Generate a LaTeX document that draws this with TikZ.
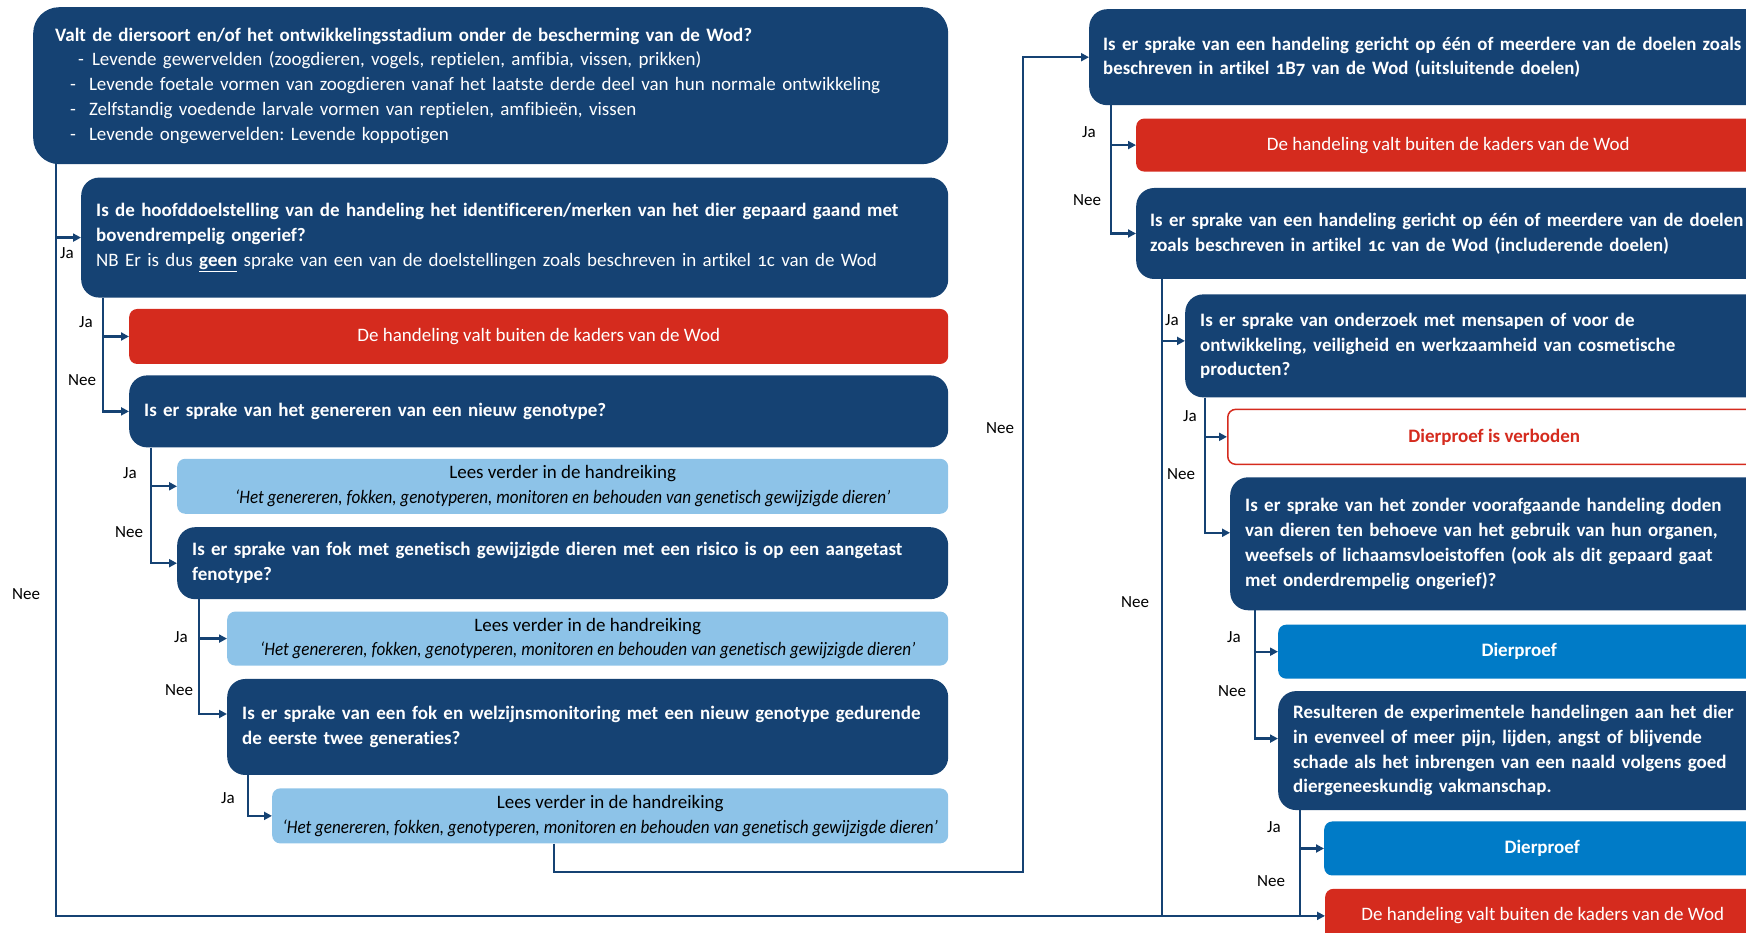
\documentclass[tikz,border=0pt]{standalone}
\usepackage{fontspec}
\setmainfont{Carlito}[Numbers=OldStyle, Ligatures={CommonOff,ContextualOff}]
\usetikzlibrary{positioning,arrows.meta}
\frenchspacing

\definecolor{wodblauw}{HTML}{154273}
\definecolor{wodrood}{HTML}{D52B1E}
\definecolor{hemelblauw}{HTML}{007BC7}
\definecolor{lichtblauw}{HTML}{8DC3E8}

\tikzset{
  vraag/.style={fill=wodblauw, text=white, rounded corners=18pt, align=left,
    inner xsep=15pt, inner ysep=0pt,
    font=\fontsize{19pt}{24.8pt}\selectfont\bfseries},
  uitkomst/.style={rounded corners=8pt, align=center, inner sep=0pt,
    font=\fontsize{19pt}{24.8pt}\selectfont},
  buiten/.style={uitkomst, fill=wodrood, text=white},
  lees/.style={uitkomst, fill=lichtblauw, text=black},
  proef/.style={uitkomst, fill=hemelblauw, text=white,
    font=\fontsize{19pt}{24.8pt}\selectfont\bfseries},
  verbod/.style={uitkomst, draw=wodrood, line width=1.5pt, fill=white, text=wodrood,
    font=\fontsize{19pt}{24.8pt}\selectfont\bfseries},
  keuze/.style={inner sep=0pt, text=black, font=\fontsize{17pt}{20pt}\selectfont},
  pijl/.style={draw=wodblauw, line width=2.3pt, -{Triangle[length=8pt,width=8pt]}},
  lijn/.style={draw=wodblauw, line width=2.3pt},
}

\begin{document}
\begin{tikzpicture}[x=1pt,y=1pt]
  \useasboundingbox (0,0) rectangle (1746,933);
  \clip (0,0) rectangle (1746,933);

  % linker kolom
  \node (qA) [vraag, anchor=north west, rounded corners=26pt, inner xsep=22pt,
    text width=871pt, minimum width=915pt, minimum height=157pt] at (33,926)
    {Valt de diersoort en/of het ontwikkelingsstadium onder de bescherming van de Wod?\\
     {\mdseries\hspace*{23pt}-\hspace*{8pt}Levende gewervelden (zoogdieren, vogels, reptielen, amfibia, vissen, prikken)}\\
     {\mdseries\hspace*{15pt}-\hspace*{13pt}Levende foetale vormen van zoogdieren vanaf het laatste derde deel van hun normale ontwikkeling}\\
     {\mdseries\hspace*{15pt}-\hspace*{13pt}Zelfstandig voedende larvale vormen van reptielen, amfibieën, vissen}\\
     {\mdseries\hspace*{15pt}-\hspace*{13pt}Levende ongewervelden: Levende koppotigen}};
  \node (qB) [vraag, below right=13pt and 48pt of qA.south west,
    text width=837pt, minimum width=867pt, minimum height=120pt]
    {\mbox{Is de hoofddoelstelling van de handeling het identificeren/merken van het dier gepaard gaand met}\\
     bovendrempelig ongerief?\\
     {\mdseries NB Er is dus \underline{\textbf{geen}} sprake van een van de doelstellingen zoals beschreven in artikel 1c van de Wod}};
  \node (rC) [buiten, below right=11pt and 48pt of qB.south west,
    minimum width=819pt, minimum height=55pt]
    {De handeling valt buiten de kaders van de Wod};
  \node (qD) [vraag, below right=11pt and 0pt of rC.south west,
    text width=789pt, minimum width=819pt, minimum height=72pt]
    {Is er sprake van het genereren van een nieuw genotype?};
  \node (lE) [lees, below right=11pt and 48pt of qD.south west,
    minimum width=771pt, minimum height=55pt]
    {Lees verder in de handreiking\\
     {\itshape\addfontfeature{FakeStretch=0.9}‘Het genereren, fokken, genotyperen, monitoren en behouden van genetisch gewijzigde dieren’}};
  \node (qF) [vraag, below right=13pt and 0pt of lE.south west,
    text width=741pt, minimum width=771pt, minimum height=72pt]
    {\mbox{Is er sprake van fok met genetisch gewijzigde dieren met een risico is op een aangetast}\\
     fenotype?};
  \node (lG) [lees, below right=12pt and 50pt of qF.south west,
    minimum width=721pt, minimum height=54pt]
    {Lees verder in de handreiking\\
     {\itshape\addfontfeature{FakeStretch=0.9}‘Het genereren, fokken, genotyperen, monitoren en behouden van genetisch gewijzigde dieren’}};
  \node (qH) [vraag, below right=13pt and 0pt of lG.south west,
    text width=691pt, minimum width=721pt, minimum height=96pt]
    {\mbox{Is er sprake van een fok en welzijnsmonitoring met een nieuw genotype gedurende}\\
     de eerste twee generaties?};
  \node (lI) [lees, below right=13pt and 45pt of qH.south west,
    minimum width=676pt, minimum height=55pt]
    {Lees verder in de handreiking\\
     {\itshape\addfontfeature{FakeStretch=0.9}‘Het genereren, fokken, genotyperen, monitoren en behouden van genetisch gewijzigde dieren’}};

  % rechter kolom
  \node (qJ) [vraag, anchor=north west, inner xsep=14pt,
    text width=713pt, minimum width=741pt, minimum height=96pt] at (1089,924)
    {\addfontfeature{FakeStretch=0.99}Is er sprake van een handeling gericht op één of meerdere van de doelen zoals\\
     beschreven in artikel 1B7 van de Wod (uitsluitende doelen)};
  \node (rK) [buiten, below right=13pt and 47pt of qJ.south west,
    minimum width=624pt, minimum height=53pt]
    {De handeling valt buiten de kaders van de Wod};
  \node (qL) [vraag, below right=16pt and 0pt of rK.south west, inner xsep=14pt,
    text width=666pt, minimum width=694pt, minimum height=91pt]
    {\addfontfeature{FakeStretch=0.99}Is er sprake van een handeling gericht op één of meerdere van de doelen\\
     zoals beschreven in artikel 1c van de Wod (includerende doelen)};
  \node (qM) [vraag, below right=15pt and 49pt of qL.south west,
    text width=615pt, minimum width=645pt, minimum height=103pt]
    {Is er sprake van onderzoek met mensapen of voor de\\
     ontwikkeling, veiligheid en werkzaamheid van cosmetische\\
     producten?};
  \node (vN) [verbod, below right=11pt and 42pt of qM.south west,
    minimum width=533pt, minimum height=55pt]
    {Dierproef is verboden};
  \node (qO) [vraag, below right=12pt and 3pt of vN.south west,
    text width=570pt, minimum width=600pt, minimum height=133pt]
    {Is er sprake van het zonder voorafgaande handeling doden\\
     van dieren ten behoeve van het gebruik van hun organen,\\
     weefsels of lichaamsvloeistoffen (ook als dit gepaard gaat\\
     met onderdrempelig ongerief)?};
  \node (pP) [proef, below right=14pt and 48pt of qO.south west,
    minimum width=482pt, minimum height=54pt]
    {Dierproef};
  \node (qQ) [vraag, below right=12pt and 0pt of pP.south west,
    text width=522pt, minimum width=552pt, minimum height=119pt]
    {Resulteren de experimentele handelingen aan het dier\\
     in evenveel of meer pijn, lijden, angst of blijvende\\
     schade als het inbrengen van een naald volgens goed\\
     diergeneeskundig vakmanschap.};
  \node (pR) [proef, below right=11pt and 46pt of qQ.south west,
    minimum width=436pt, minimum height=54pt]
    {Dierproef};
  \node (rS) [buiten, below right=13pt and 1pt of pR.south west,
    minimum width=435pt, minimum height=54pt]
    {De handeling valt buiten de kaders van de Wod};

  % takken links
  \draw[pijl] ([xshift=23pt]qA.south west) |- (qB.west);
  \draw[pijl] ([xshift=23pt]qA.south west) |- (rS.west);
  \draw[pijl] ([xshift=22pt]qB.south west) |- (rC.west);
  \draw[pijl] ([xshift=22pt]qB.south west) |- (qD.west);
  \draw[pijl] ([xshift=22pt]qD.south west) |- (lE.west);
  \draw[pijl] ([xshift=22pt]qD.south west) |- (qF.west);
  \draw[pijl] ([xshift=22pt]qF.south west) |- (lG.west);
  \draw[pijl] ([xshift=22pt]qF.south west) |- ([yshift=13pt]qH.west);
  \draw[pijl] ([xshift=21pt]qH.south west) |- (lI.west);

  % lus naar de rechter kolom
  \coordinate (lus) at (1023,61);
  \draw[pijl] ([xshift=282pt]lI.south west) |- (lus) |- (qJ.west);

  % takken rechts
  \draw[pijl] ([xshift=22pt]qJ.south west) |- (rK.west);
  \draw[pijl] ([xshift=22pt]qJ.south west) |- (qL.west);
  \draw[pijl] ([xshift=26pt]qL.south west) |- ([yshift=5pt]qM.west);
  \draw[lijn] ([xshift=26pt]qL.south west) -- ([xshift=26pt]qL.south west |- rS.west);
  \draw[pijl] ([xshift=20pt]qM.south west) |- (vN.west);
  \draw[pijl] ([xshift=20pt]qM.south west) |- ([yshift=11pt]qO.west);
  \draw[pijl] ([xshift=25pt]qO.south west) |- (pP.west);
  \draw[pijl] ([xshift=25pt]qO.south west) |- ([yshift=12pt]qQ.west);
  \draw[pijl] ([xshift=22pt]qQ.south west) |- (pR.west);
  \draw[lijn] ([xshift=22pt]qQ.south west) -- ([xshift=22pt]qQ.south west |- rS.west);

  % ja/nee
  \node[keuze] (jaA) at (67,680) {Ja};
  \node[keuze] (neeA) at (26,339) {Nee};
  \node[keuze] (jaB) at (86,611) {Ja};
  \node[keuze] (neeB) at (82,553) {Nee};
  \node[keuze] (jaD) at (130,460) {Ja};
  \node[keuze] (neeD) at (129,401) {Nee};
  \node[keuze] (jaF) at (181,296) {Ja};
  \node[keuze] (neeF) at (179,243) {Nee};
  \node[keuze] (jaH) at (228,135) {Ja};
  \node[keuze] (neeLus) at (1000,505) {Nee};
  \node[keuze] (jaJ) at (1089,801) {Ja};
  \node[keuze] (neeJ) at (1087,733) {Nee};
  \node[keuze] (jaL) at (1172,613) {Ja};
  \node[keuze] (neeL) at (1135,331) {Nee};
  \node[keuze] (jaM) at (1190,517) {Ja};
  \node[keuze] (neeM) at (1181,459) {Nee};
  \node[keuze] (jaO) at (1234,296) {Ja};
  \node[keuze] (neeO) at (1232,242) {Nee};
  \node[keuze] (jaQ) at (1274,106) {Ja};
  \node[keuze] (neeQ) at (1271,52) {Nee};
\end{tikzpicture}
\end{document}
